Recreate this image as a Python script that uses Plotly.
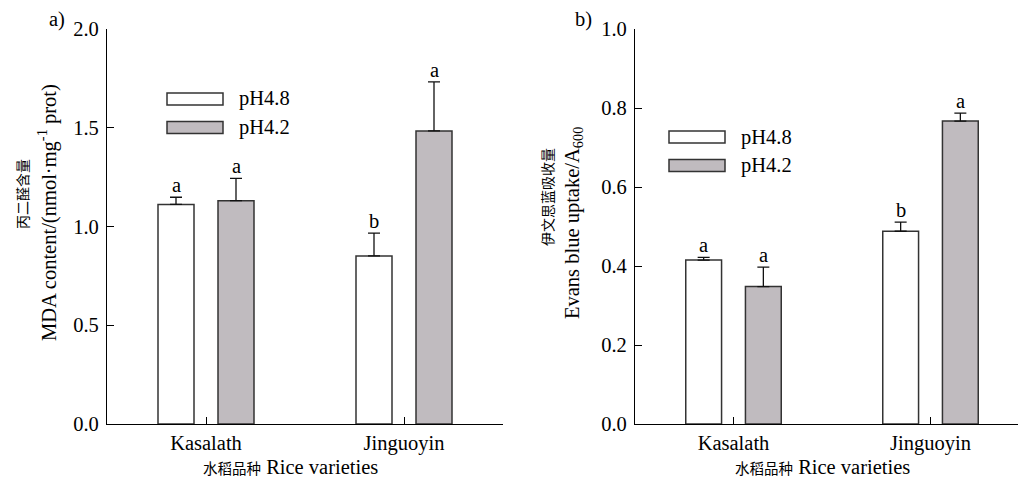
import plotly.graph_objects as go

W, H = 1018, 482

varieties = ["Kasalath", "Jinguoyin"]
treatments = ["pH4.8", "pH4.2"]

# Panel a) MDA content
mda_48 = [1.112, 0.851]
mda_48_err = [0.036, 0.115]
mda_42 = [1.131, 1.484]
mda_42_err = [0.113, 0.248]
mda_letters_48 = ["a", "b"]
mda_letters_42 = ["a", "a"]

# Panel b) Evans blue uptake
eb_48 = [0.415, 0.488]
eb_48_err = [0.007, 0.023]
eb_42 = [0.348, 0.767]
eb_42_err = [0.049, 0.020]
eb_letters_48 = ["a", "b"]
eb_letters_42 = ["a", "a"]

FONT = "Liberation Serif"
FS = 20.5
EDGE = "#333333"
FILL_48 = "#ffffff"
FILL_42 = "#c0bbbf"
OFF = 0.1515


def px(x):
    return x / W


def py(y):
    return 1 - y / H


fig = go.Figure()


def add_panel(xa, ya, v48, e48, v42, e42):
    for vals, errs, fill, name in [(v48, e48, FILL_48, treatments[0]),
                                   (v42, e42, FILL_42, treatments[1])]:
        fig.add_trace(go.Bar(
            x=varieties, y=vals, name=name, xaxis=xa, yaxis=ya,
            marker=dict(color=fill, line=dict(color=EDGE, width=1.5)),
            error_y=dict(type="data", array=errs, arrayminus=[0] * len(errs),
                         symmetric=False, color="#111111", thickness=1.3, width=6),
            showlegend=False,
        ))


add_panel("x", "y", mda_48, mda_48_err, mda_42, mda_42_err)
add_panel("x2", "y2", eb_48, eb_48_err, eb_42, eb_42_err)

annotations = []


def add_letters(xref, yref, vals, errs, letters, off):
    for i, (v, e, t) in enumerate(zip(vals, errs, letters)):
        annotations.append(dict(
            x=i + off, y=v + e, xref=xref, yref=yref, text=t, showarrow=False,
            yanchor="bottom", yshift=-1, font=dict(family=FONT, size=FS, color="black")))


add_letters("x", "y", mda_48, mda_48_err, mda_letters_48, -OFF)
add_letters("x", "y", mda_42, mda_42_err, mda_letters_42, OFF)
add_letters("x2", "y2", eb_48, eb_48_err, eb_letters_48, -OFF)
add_letters("x2", "y2", eb_42, eb_42_err, eb_letters_42, OFF)


def txt(x, y, text, size=FS, angle=0, xanchor="center"):
    annotations.append(dict(
        x=px(x), y=py(y), xref="paper", yref="paper", text=text, showarrow=False,
        textangle=angle, xanchor=xanchor, yanchor="middle",
        font=dict(family=FONT, size=size, color="black")))


CJK_Y = '<span style="font-family:\'Noto Sans CJK SC\';font-size:14px">{}</span>'
CJK_X = '<span style="font-family:\'Noto Sans CJK SC\';font-size:14.5px">{}</span>'

# panel labels
txt(57, 20, "a)")
txt(583, 20, "b)")

# y titles
txt(22, 194, CJK_Y.format("丙二醛含量"), angle=-90)
txt(47, 213, "MDA content/(nmol·mg<sup>-1</sup> prot)", angle=-90)
txt(547, 197, CJK_Y.format("伊文思蓝吸收量"), angle=-90)
txt(573, 223, "Evans blue uptake/A<sub>600</sub>", angle=-90)

# x titles
txt(290, 467, CJK_X.format("水稻品种") + " Rice varieties")
txt(822, 467, CJK_X.format("水稻品种") + " Rice varieties")

# legends
shapes = []


def legend(x0, y0, step):
    for k, (name, fill) in enumerate([(treatments[0], FILL_48), (treatments[1], FILL_42)]):
        top = y0 + k * step
        shapes.append(dict(type="rect", xref="paper", yref="paper",
                           x0=px(x0), x1=px(x0 + 56), y0=py(top + 12), y1=py(top),
                           fillcolor=fill, line=dict(color=EDGE, width=1.5)))
        txt(x0 + 70, top + 6, name, xanchor="left")


legend(167, 93, 28.5)
legend(669, 131, 28.5)

axis_common = dict(showline=True, linecolor="black", linewidth=1.3, showgrid=False,
                   zeroline=False, ticks="inside", ticklen=7, tickcolor="black",
                   tickwidth=1.2, automargin=False,
                   tickfont=dict(family=FONT, size=FS, color="black"))

fig.update_layout(
    width=W, height=H,
    margin=dict(l=0, r=0, t=0, b=0, pad=0),
    paper_bgcolor="white", plot_bgcolor="white",
    font=dict(family=FONT, size=FS, color="black"),
    barmode="group", bargap=0.394, bargroupgap=0.4,
    xaxis=dict(domain=[px(107), px(503)], range=[-0.5, 1.5], type="category",
               anchor="y", **axis_common),
    yaxis=dict(domain=[py(424), py(29)], range=[0, 2.0], dtick=0.5, tickformat=".1f",
               anchor="x", ticklabelstandoff=3, **axis_common),
    xaxis2=dict(domain=[px(635), 1.0], range=[-0.5, -0.5 + 383 / 197], type="category",
                anchor="y2", **axis_common),
    yaxis2=dict(domain=[py(424), py(29)], range=[0, 1.0], dtick=0.2, tickformat=".1f",
                anchor="x2", ticklabelstandoff=3, **axis_common),
    annotations=annotations,
    shapes=shapes,
)

fig.write_html("out.html")
